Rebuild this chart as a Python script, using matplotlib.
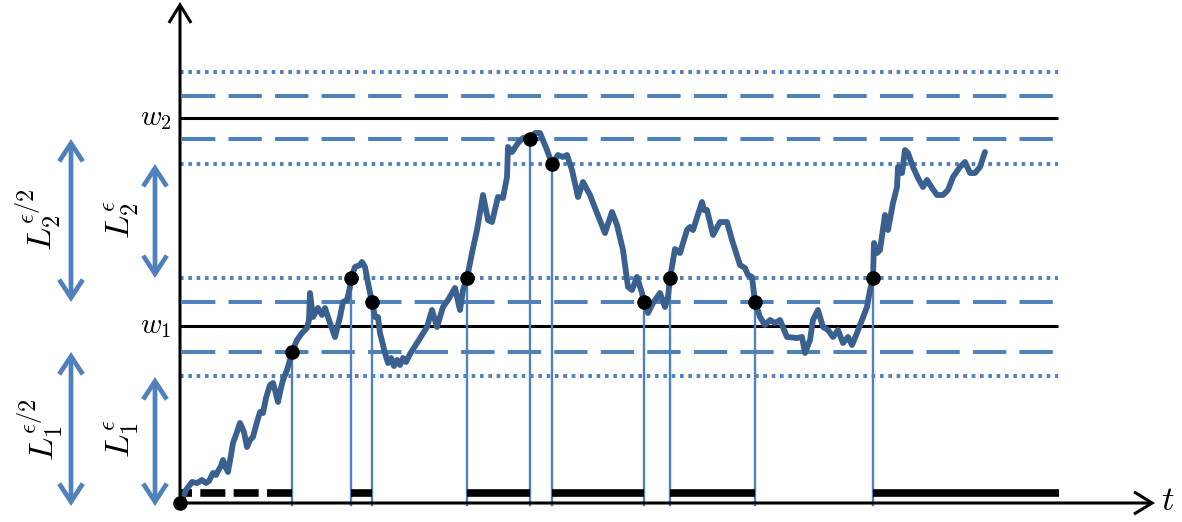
import matplotlib
matplotlib.use("Agg")
import matplotlib.pyplot as plt
from matplotlib.patches import FancyArrowPatch

plt.rcParams["mathtext.fontset"] = "cm"
plt.rcParams["lines.scale_dashes"] = False

# Barrier levels
w_levels = [177, 385]                 # w1, w2
dashed_levels = [151, 201, 364, 407]  # w -/+ eps/2
dotted_levels = [127, 225, 339, 431]  # w -/+ eps
line_end = 878

# Sample path (t, W)
path_t = [0, 2, 6, 12, 17, 22, 26, 29, 33, 36, 38, 41, 43, 46, 48, 51, 53, 57, 60, 64,
          67, 70, 73, 77, 80, 83, 86, 90, 93, 95, 98, 101, 103, 107, 110, 112, 117, 122, 127, 129,
          130, 133, 138, 142, 145, 150, 155, 160, 163, 167, 170, 171, 175, 180, 182, 185, 188, 192, 195, 198,
          200, 205, 208, 211, 214, 217, 220, 223, 226, 230, 237, 247, 252, 257, 263, 268, 275, 280, 283, 287,
          292, 297, 303, 308, 312, 318, 323, 327, 328, 332, 338, 343, 350, 355, 360, 367, 372, 378, 383, 387,
          392, 398, 403, 410, 417, 425, 432, 437, 443, 448, 452, 457, 462, 464, 468, 473, 480, 485, 488, 490,
          495, 500, 507, 510, 513, 522, 524, 527, 533, 540, 547, 552, 560, 565, 568, 572, 575, 580, 585, 590,
          595, 600, 607, 617, 622, 625, 630, 633, 638, 643, 648, 653, 658, 663, 668, 672, 677, 682, 687, 690,
          693, 694, 697, 700, 705, 708, 713, 717, 718, 722, 725, 728, 733, 738, 743, 747, 752, 757, 763, 768,
          773, 780, 785, 790, 795, 800, 805]
path_w = [0, 3, 13, 21, 20, 23, 20, 22, 30, 28, 32, 37, 43, 35, 31, 48, 60, 71, 80, 71,
          56, 63, 66, 81, 91, 90, 105, 118, 120, 113, 101, 115, 123, 133, 143, 151, 163, 170, 175, 183,
          210, 186, 195, 188, 195, 180, 166, 186, 201, 203, 216, 225, 236, 238, 241, 236, 220, 201, 186, 186,
          170, 150, 140, 145, 137, 143, 138, 145, 141, 149, 160, 176, 193, 176, 196, 203, 215, 193, 213, 225,
          250, 273, 308, 283, 281, 306, 305, 326, 356, 351, 360, 365, 364, 370, 370, 353, 339, 348, 346, 348,
          333, 306, 321, 308, 290, 270, 291, 278, 253, 216, 213, 226, 210, 201, 190, 200, 210, 196, 206, 225,
          254, 250, 273, 276, 273, 301, 293, 293, 268, 281, 281, 263, 238, 235, 228, 226, 201, 186, 178, 183,
          180, 183, 166, 165, 166, 150, 163, 183, 193, 176, 173, 166, 173, 160, 166, 158, 170, 183, 196, 213,
          225, 260, 250, 253, 288, 273, 300, 316, 336, 330, 353, 350, 336, 325, 316, 323, 315, 308, 308, 313,
          326, 336, 341, 330, 330, 336, 351]

# Crossing times and the level crossed at each
hit_t = [112, 171, 192, 287, 350, 372, 464, 490, 575, 693]
hit_w = [151, 225, 201, 225, 364, 339, 201, 225, 201, 225]

# Occupation intervals drawn on the time axis
dashed_interval = (112, 0)
solid_intervals = [(171, 192), (287, 350), (372, 464), (490, 575), (693, 879)]
interval_level = 10

LIGHT = "#4f81bd"
PATH = "#3a6090"

fig = plt.figure(figsize=(11.82, 5.22), dpi=100)
ax = fig.add_axes([0, 0, 1, 1])
ax.set_xlim(-180, 1002)
ax.set_ylim(-19, 503)
ax.axis("off")

for lv in dotted_levels:
    ax.plot([0, line_end], [lv, lv], color=LIGHT, lw=2.8,
            linestyle=(0, (2.6, 3.4)), solid_capstyle="butt", dash_capstyle="butt")
for lv in dashed_levels:
    ax.plot([2, line_end], [lv, lv], color=LIGHT, lw=2.9,
            linestyle=(0, (24, 9.5)), dash_capstyle="butt")
for lv in w_levels:
    ax.plot([0, line_end], [lv, lv], color="black", lw=2.2, solid_capstyle="butt")

# vertical drops from each crossing
for t, w in zip(hit_t, hit_w):
    ax.plot([t, t], [w, -2], color=LIGHT, lw=1.7, zorder=3)

# occupation bars
ax.plot(list(dashed_interval), [interval_level] * 2, color="black", lw=5.5,
        linestyle=(0, (18, 6)), dash_capstyle="butt", zorder=4)
for a, b in solid_intervals:
    ax.plot([a, b], [interval_level] * 2, color="black", lw=5.5,
            solid_capstyle="butt", zorder=4)

ax.plot(path_t, path_w, color=PATH, lw=4.2, solid_joinstyle="round",
        solid_capstyle="round", zorder=5)

ax.plot(hit_t, hit_w, "o", color="black", ms=9.5, zorder=6)
ax.plot([0], [0], "o", color="black", ms=9.5, zorder=6, clip_on=False)

# axes with open arrowheads
def arrow(p0, p1, style, color, lw):
    ax.add_patch(FancyArrowPatch(p0, p1, arrowstyle=style, mutation_scale=10,
                                 color=color, lw=lw, shrinkA=0, shrinkB=0,
                                 joinstyle="miter", capstyle="butt", zorder=7))

arrow((0, 0), (0, 501), "->,head_length=1.3,head_width=0.8", "black", 2.2)
arrow((0, 0), (975, 0), "->,head_length=1.3,head_width=0.8", "black", 2.2)

arrow((-109, 201), (-109, 364), "<->,head_length=1.3,head_width=0.85", LIGHT, 3.4)
arrow((-25, 225), (-25, 339), "<->,head_length=1.3,head_width=0.85", LIGHT, 3.4)
arrow((-109, -3), (-109, 151), "<->,head_length=1.3,head_width=0.85", LIGHT, 3.4)
arrow((-25, -3), (-25, 126), "<->,head_length=1.3,head_width=0.85", LIGHT, 3.4)

ax.text(-8, 385, r"$w_2$", fontsize=21, ha="right", va="center")
ax.text(-8, 177, r"$w_1$", fontsize=21, ha="right", va="center")
ax.text(988, 3, r"$t$", fontsize=25, ha="center", va="center")

ax.text(-141, 283, r"$L_2^{\epsilon/2}$", fontsize=25, rotation=90, ha="center", va="center")
ax.text(-58, 283, r"$L_2^{\epsilon}$", fontsize=25, rotation=90, ha="center", va="center")
ax.text(-139, 73, r"$L_1^{\epsilon/2}$", fontsize=25, rotation=90, ha="center", va="center")
ax.text(-58, 64, r"$L_1^{\epsilon}$", fontsize=25, rotation=90, ha="center", va="center")

fig.savefig("out.png", dpi=100)
